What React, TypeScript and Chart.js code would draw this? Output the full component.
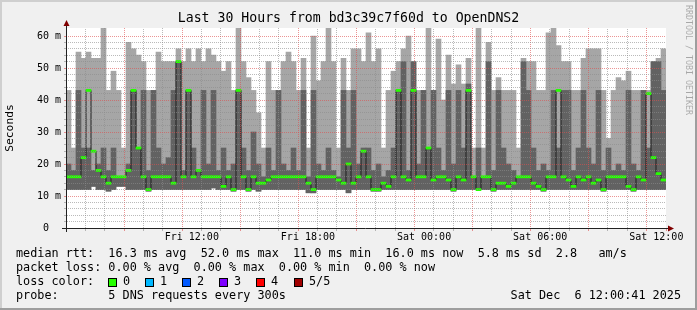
import React, { useEffect, useRef } from "react";
import { Chart, registerables } from "chart.js";

Chart.register(...registerables);

const MONO = '"DejaVu Sans Mono", "Liberation Mono", monospace';

// 120 columns, 15 minutes each, Fri 06:00 -> Sat 12:00 (values in ms)
const smokeMin = [
  12, 12, 12, 12, 12, 13, 12, 12, 11.5, 12, 13, 13, 12, 12, 12, 12, 11.5, 12, 12, 12,
  12, 12, 12, 12, 12, 12, 12, 12, 12, 12.5, 12, 12, 12, 11.5, 12, 12, 11.5, 12, 11.5, 12,
  12, 12, 12, 12, 12, 12, 12, 12, 11, 11, 12, 12, 12, 12, 12, 12, 11, 12, 12, 12,
  12, 11.5, 11.5, 12, 12, 12, 12, 12, 12, 12, 12, 12, 12, 12, 12, 12, 12, 11.5, 12, 12,
  12, 12, 12, 12, 12, 11.5, 12, 12, 12, 12, 12, 12, 12, 12, 12, 11.5, 12, 12, 12, 12,
  12, 12, 12, 12, 12, 12, 12, 11.5, 12, 12, 12, 12, 12, 11.5, 12, 12, 12, 12, 12, 12,
];
const smokeDark = [
  20, 18, 43, 25, 25, 18, 20, 25, 18, 25, 16, 16, 20, 43, 25, 43, 18, 43, 25, 20,
  22, 43, 52, 18, 43, 25, 18, 43, 20, 43, 18, 25, 18, 20, 43, 25, 18, 30, 20, 16,
  25, 18, 43, 20, 18, 25, 18, 43, 16, 43, 20, 18, 25, 18, 16, 43, 25, 43, 20, 25,
  25, 18, 20, 16, 18, 25, 43, 52, 18, 52, 20, 43, 25, 43, 25, 18, 43, 20, 43, 25,
  45, 16, 25, 16, 52, 18, 43, 25, 20, 18, 16, 52, 43, 25, 18, 20, 18, 43, 25, 43,
  43, 18, 25, 43, 25, 20, 43, 18, 25, 18, 20, 18, 43, 20, 18, 43, 25, 52, 52, 43,
];
const smokeMax = [
  43, 25, 55, 53, 55, 53, 53, 62.5, 43, 49, 43, 25, 58, 56, 54, 52, 43, 43, 55, 52,
  52, 52, 56, 52, 56, 52, 56, 52, 56, 54, 52, 49, 52, 43, 62.5, 52, 47, 43, 36, 25,
  52, 43, 43, 52, 55, 52, 43, 53, 25, 60, 46, 52, 62.5, 52, 25, 53, 43, 56, 56, 52,
  61, 52, 56, 25, 43, 49, 52, 56, 60, 52, 43, 43, 62.5, 43, 59, 40, 54, 45, 51, 45,
  53, 25, 62.5, 25, 58, 43, 47, 43, 43, 43, 25, 53, 52, 52, 43, 43, 61, 62.5, 57, 52,
  52, 43, 43, 53, 56, 56, 56, 43, 28, 43, 47, 46, 49, 43, 43, 43, 43, 52, 53, 56,
];
const medianRtt = [
  16, 16, 16, 22, 43, 24, 18, 16, 14, 16, 16, 16, 18, 43, 25, 16, 12, 16, 16, 16,
  16, 14, 52, 16, 43, 16, 18, 16, 16, 16, 16, 13, 16, 12, 43, 16, 12, 16, 14, 14,
  15, 16, 16, 16, 16, 16, 16, 16, 14, 12, 16, 16, 16, 16, 15, 14, 20, 14, 16, 24,
  16, 12, 12, 14, 13, 16, 43, 16, 15, 43, 16, 16, 25, 15, 16, 16, 15, 12, 16, 15,
  43, 16, 12, 16, 16, 12, 14, 14, 13, 14, 16, 16, 16, 14, 13, 12, 16, 16, 43, 16,
  15, 13, 16, 15, 16, 14, 15, 12, 16, 16, 16, 16, 13, 12, 16, 15, 42, 22, 17, 15,
];

const stepLabels = smokeMax.map((_, i) => {
  const m = 6 * 60 + i * 15;
  const day = m >= 1440 ? "Sat" : "Fri";
  const mm = m % 1440;
  return `${day} ${String(Math.floor(mm / 60)).padStart(2, "0")}:${String(mm % 60).padStart(2, "0")}`;
});

// hours since Fri 06:00
const xLabelHours = [6, 12, 18, 24, 30];
const xLabelTexts = ["Fri 12:00", "Fri 18:00", "Sat 00:00", "Sat 06:00", "Sat 12:00"];
const yLabelValues = [0, 10, 20, 30, 40, 50, 60];
const yLabelTexts = ["0  ", "10 m", "20 m", "30 m", "40 m", "50 m", "60 m"];

const titleText = "Last 30 Hours from bd3c39c7f60d to OpenDNS2";
const yAxisTitle = "Seconds";
const watermark = "RRDTOOL / TOBI OETIKER";
const legendRtt = "median rtt:  16.3 ms avg  52.0 ms max  11.0 ms min  16.0 ms now  5.8 ms sd  2.8   am/s";
const legendLoss = "packet loss: 0.00 % avg  0.00 % max  0.00 % min  0.00 % now";
const legendLossTitle = "loss color:";
const lossLabels = ["0", "1", "2", "3", "4", "5/5"];
const lossColors = ["#26ff00", "#00b8ff", "#0059ff", "#7e00ff", "#ff0000", "#a10000"];
const legendProbe = "probe:       5 DNS requests every 300s";
const stampText = "Sat Dec  6 12:00:41 2025";

const GRID_RGBA = "rgba(140,140,140,0.6)";
const MGRID_RGBA = "rgba(222,79,79,0.6)";
const ARROW = "#800000";
const AXIS = "#212121";

function dotPattern(color: string): CanvasPattern | string {
  const c = document.createElement("canvas");
  c.width = 2;
  c.height = 2;
  const g = c.getContext("2d");
  if (!g) return color;
  g.fillStyle = color;
  g.fillRect(0, 0, 1, 1);
  g.fillRect(1, 1, 1, 1);
  const p = g.createPattern(c, "repeat");
  return p || color;
}

const rrdFrame = {
  id: "rrdFrame",
  beforeDraw(chart: any) {
    const { ctx, chartArea: a, width, height } = chart;
    ctx.save();
    ctx.fillStyle = "#f0f0f0";
    ctx.fillRect(0, 0, width, height);
    ctx.fillStyle = "#cfcfcf";
    ctx.fillRect(0, 0, width, 2);
    ctx.fillRect(0, 0, 2, height);
    ctx.fillStyle = "#9e9e9e";
    ctx.fillRect(0, height - 2, width, 2);
    ctx.fillRect(width - 2, 0, 2, height);
    ctx.fillStyle = "#ffffff";
    ctx.fillRect(a.left, a.top, a.right - a.left, a.bottom - a.top);
    ctx.restore();
  },
  afterDraw(chart: any) {
    const { ctx, chartArea: a, width } = chart;
    ctx.save();
    const ax = a.left + 0.5;
    const ay = a.bottom + 0.5;
    ctx.strokeStyle = AXIS;
    ctx.lineWidth = 1;
    ctx.beginPath();
    ctx.moveTo(ax, a.bottom + 4);
    ctx.lineTo(ax, a.top - 3);
    ctx.moveTo(a.left - 4, ay);
    ctx.lineTo(a.right + 3, ay);
    ctx.stroke();
    ctx.fillStyle = ARROW;
    ctx.beginPath();
    ctx.moveTo(ax - 3, a.top - 2);
    ctx.lineTo(ax + 3, a.top - 2);
    ctx.lineTo(ax, a.top - 8);
    ctx.closePath();
    ctx.fill();
    ctx.beginPath();
    ctx.moveTo(a.right + 2, ay - 3);
    ctx.lineTo(a.right + 2, ay + 3);
    ctx.lineTo(a.right + 8, ay);
    ctx.closePath();
    ctx.fill();

    ctx.fillStyle = "#000";
    ctx.textBaseline = "middle";
    ctx.textAlign = "center";
    ctx.font = `13.2px ${MONO}`;
    ctx.fillText(titleText, width / 2, 19);

    ctx.save();
    ctx.translate(10, (a.top + a.bottom) / 2);
    ctx.rotate(-Math.PI / 2);
    ctx.font = `11.3px ${MONO}`;
    ctx.fillText(yAxisTitle, 0, 0);
    ctx.restore();

    ctx.save();
    ctx.translate(688, 5);
    ctx.rotate(Math.PI / 2);
    ctx.textAlign = "left";
    ctx.font = `8.3px ${MONO}`;
    ctx.fillStyle = "rgba(0,0,0,0.3)";
    ctx.fillText(watermark, 0, 0);
    ctx.restore();

    ctx.textAlign = "left";
    ctx.font = `11.8px ${MONO}`;
    ctx.fillStyle = "#000";
    ctx.fillText(legendRtt, 16, 254);
    ctx.fillText(legendLoss, 16, 268);
    ctx.fillText(legendLossTitle, 16, 282);
    lossLabels.forEach((lab, i) => {
      const bx = Math.round(108 + i * 37.1);
      ctx.fillStyle = lossColors[i];
      ctx.fillRect(bx, 278, 8, 8);
      ctx.strokeStyle = "#000";
      ctx.strokeRect(bx + 0.5, 278.5, 8, 8);
      ctx.fillStyle = "#000";
      ctx.fillText(lab, bx + 15, 282);
    });
    ctx.fillText(legendProbe, 16, 296);
    ctx.textAlign = "right";
    ctx.fillText(stampText, 681, 296);
    ctx.restore();
  },
};

export default function App() {
  const ref = useRef<HTMLCanvasElement>(null);

  useEffect(() => {
    const canvas = ref.current;
    if (!canvas) return;
    const GRID = dotPattern(GRID_RGBA);
    const MGRID = dotPattern(MGRID_RGBA);
    const chart = new Chart(canvas, {
      type: "bar",
      data: {
        labels: stepLabels,
        datasets: [
          {
            label: "median",
            data: medianRtt.map((v) => [v - 0.33, v + 0.33]),
            backgroundColor: "#26ff00",
            grouped: false,
            barPercentage: 1,
            categoryPercentage: 1,
            borderWidth: 0,
            order: 1,
          } as any,
          {
            type: "line",
            label: "median step",
            data: medianRtt,
            borderColor: "#1e1e1e",
            borderWidth: 1,
            pointRadius: 0,
            stepped: "middle",
            fill: false,
            order: 2,
          } as any,
          {
            label: "inner smoke",
            data: smokeMin.map((v, i) => [v, smokeDark[i]]),
            backgroundColor: "#626262",
            grouped: false,
            barPercentage: 1,
            categoryPercentage: 1,
            borderWidth: 0,
            order: 3,
          } as any,
          {
            label: "outer smoke",
            data: smokeMin.map((v, i) => [v, smokeMax[i]]),
            backgroundColor: "#a6a6a6",
            grouped: false,
            barPercentage: 1,
            categoryPercentage: 1,
            borderWidth: 0,
            order: 4,
          } as any,
        ],
      },
      options: {
        animation: false,
        responsive: false,
        devicePixelRatio: 1,
        events: [],
        layout: { autoPadding: false, padding: { left: 0, right: 31, top: 28, bottom: 60 } } as any,
        plugins: { legend: { display: false }, tooltip: { enabled: false }, title: { display: false } },
        scales: {
          x: { type: "category", display: false, offset: true },
          xt: {
            type: "linear",
            position: "bottom",
            min: 0,
            max: 30,
            afterFit: (s: any) => {
              s.height = 22;
            },
            ticks: {
              stepSize: 1,
              autoSkip: false,
              maxRotation: 0,
              padding: 0,
              color: "#000",
              font: { family: MONO, size: 10 },
              callback: (v: any) => {
                const i = xLabelHours.indexOf(Number(v));
                return i >= 0 ? xLabelTexts[i] : "";
              },
            },
            grid: {
              z: 1,
              lineWidth: 1,
              tickLength: 3,
              color: (c: any) => {
                const v = c.tick?.value ?? 0;
                if (v === 0) return "rgba(0,0,0,0)";
                return v % 3 === 0 ? MGRID : GRID;
              },
              tickColor: (c: any) => {
                const v = c.tick?.value ?? 0;
                return v % 3 === 0 ? MGRID_RGBA : GRID_RGBA;
              },
            },
            border: { display: false },
          } as any,
          y: {
            min: 0,
            max: 62.5,
            afterFit: (s: any) => {
              s.width = 66;
            },
            ticks: {
              stepSize: 2,
              autoSkip: false,
              padding: 3,
              color: "#000",
              font: { family: MONO, size: 10 },
              callback: (v: any) => {
                const i = yLabelValues.indexOf(Number(v));
                return i >= 0 ? yLabelTexts[i] : "";
              },
            },
            grid: {
              z: 1,
              lineWidth: 1,
              tickLength: 2,
              color: (c: any) => {
                const v = c.tick?.value ?? 0;
                if (v === 0 || v > 62) return "rgba(0,0,0,0)";
                return v % 10 === 0 ? MGRID : GRID;
              },
              tickColor: (c: any) => {
                const v = c.tick?.value ?? 0;
                if (v > 62) return "rgba(0,0,0,0)";
                return v % 10 === 0 ? MGRID_RGBA : GRID_RGBA;
              },
            },
            border: { display: false },
          } as any,
        },
      },
      plugins: [rrdFrame],
    });
    return () => chart.destroy();
  }, []);

  return (
    <div style={{ position: "fixed", left: 0, top: 0, width: 697, height: 310 }}>
      <canvas ref={ref} width={697} height={310} style={{ display: "block", width: 697, height: 310 }} />
    </div>
  );
}
